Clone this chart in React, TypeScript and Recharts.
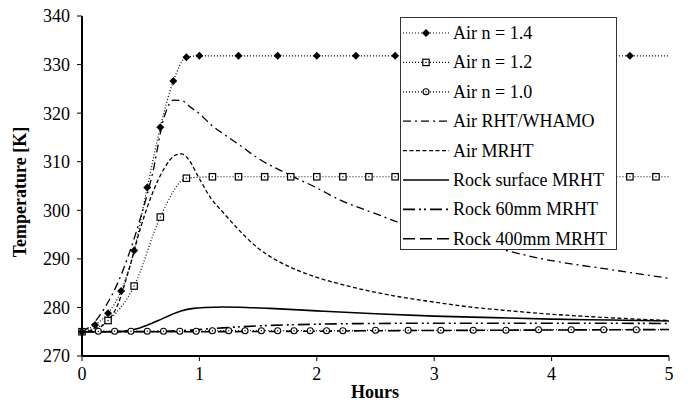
import React from 'react';
import { LineChart, Line, XAxis, YAxis, Legend } from 'recharts';

const FONT = "'Liberation Serif', 'Times New Roman', serif";

// ---- data ----
const xTicks = [0, 1, 2, 3, 4, 5];
const yTicks = [270, 280, 290, 300, 310, 320, 330, 340];

const seriesNames = [
  'Air n = 1.4',
  'Air n = 1.2',
  'Air n = 1.0',
  'Air RHT/WHAMO',
  'Air MRHT',
  'Rock surface MRHT',
  'Rock 60mm MRHT',
  'Rock 400mm MRHT',
];

const n14Hours = [0, 0.111, 0.222, 0.333, 0.444, 0.556, 0.667, 0.778, 0.889, 1.0, 1.333, 1.667, 2.0, 2.333, 2.667, 3.0, 3.333, 3.667, 4.0, 4.333, 4.667, 5.0];
const n14Temps = [275, 276.4, 278.8, 283.4, 291.7, 304.7, 317.1, 326.6, 331.5, 331.8, 331.8, 331.8, 331.8, 331.8, 331.8, 331.8, 331.8, 331.8, 331.8, 331.8, 331.8, 331.8];

const n12Hours = [0, 0.222, 0.444, 0.667, 0.889, 1.111, 1.333, 1.556, 1.778, 2.0, 2.222, 2.444, 2.667, 2.889, 3.111, 3.333, 3.556, 3.778, 4.0, 4.222, 4.444, 4.667, 4.889, 5.0];
const n12Temps = [275, 277.3, 284.4, 298.6, 306.6, 306.9, 306.9, 306.9, 306.9, 306.9, 306.9, 306.9, 306.9, 306.9, 306.9, 306.9, 306.9, 306.9, 306.9, 306.9, 306.9, 306.9, 306.9, 306.9];

const n10Hours = [0, 0.139, 0.278, 0.417, 0.556, 0.694, 0.833, 0.972, 1.111, 1.25, 1.389, 1.528, 1.667, 1.806, 1.944, 2.083, 2.222, 2.5, 2.778, 3.056, 3.333, 3.611, 3.889, 4.167, 4.444, 4.722, 5.0];
const n10Temps = [275.0, 275.1, 275.1, 275.1, 275.1, 275.1, 275.1, 275.1, 275.2, 275.2, 275.2, 275.2, 275.2, 275.2, 275.2, 275.2, 275.2, 275.3, 275.3, 275.3, 275.3, 275.3, 275.4, 275.4, 275.4, 275.4, 275.4];

const rhtHours = [0, 0.1, 0.2, 0.3, 0.4, 0.5, 0.6, 0.7, 0.78, 0.85, 0.92, 1.0, 1.1, 1.2, 1.35, 1.5, 1.75, 2.0, 2.2, 2.5, 2.7, 3.0, 3.5, 3.9, 4.5, 5.0];
const rhtTemps = [275, 276.8, 280.2, 284.8, 291.0, 298.6, 307.5, 319.2, 322.7, 322.6, 321.3, 319.9, 317.6, 315.8, 313.3, 310.7, 307.5, 304.6, 302.1, 299.3, 297.5, 295.4, 292.4, 290.1, 287.8, 286.0];

const mrhtHours = [0, 0.1, 0.2, 0.3, 0.4, 0.5, 0.6, 0.7, 0.8, 0.85, 0.9, 1.0, 1.1, 1.2, 1.35, 1.5, 1.65, 1.8, 2.0, 2.3, 2.7, 3.0, 3.3, 3.6, 4.0, 4.4, 5.0];
const mrhtTemps = [275, 275.4, 276.8, 280.3, 287.8, 296.5, 303.5, 308.6, 311.4, 311.6, 310.7, 306.5, 302.4, 299.6, 295.6, 292.2, 289.8, 288.0, 286.2, 284.2, 282.2, 281.1, 280.1, 279.4, 278.6, 278.0, 277.3];

const rockSurfHours = [0, 0.2, 0.35, 0.45, 0.55, 0.65, 0.75, 0.85, 0.95, 1.05, 1.2, 1.4, 1.6, 2.0, 2.5, 3.0, 3.5, 4.0, 4.5, 5.0];
const rockSurfTemps = [275, 275, 275.1, 275.5, 276.3, 277.3, 278.4, 279.3, 279.8, 280.0, 280.1, 280.0, 279.8, 279.3, 278.7, 278.2, 277.9, 277.6, 277.4, 277.2];

const rock60Hours = [0, 0.6, 0.9, 1.2, 1.5, 2.0, 2.5, 3.0, 4.0, 5.0];
const rock60Temps = [275, 275.05, 275.3, 275.8, 276.2, 276.55, 276.7, 276.75, 276.75, 276.7];

const rock400Hours = [0, 1.0, 1.5, 2.0, 2.5, 3.0, 3.5, 4.0, 4.5, 5.0];
const rock400Temps = [275, 275, 275.05, 275.1, 275.2, 275.25, 275.3, 275.35, 275.4, 275.45];

// ---- helpers ----
const toData = (xs: number[], ys: number[]) =>
  xs.map((x, i) => ({ x, y: ys[i], m: i < xs.length - 1 }));

const n14Data = toData(n14Hours, n14Temps);
const n12Data = toData(n12Hours, n12Temps);
const n10Data = toData(n10Hours, n10Temps);
const rhtData = toData(rhtHours, rhtTemps);
const mrhtData = toData(mrhtHours, mrhtTemps);
const rockSurfData = toData(rockSurfHours, rockSurfTemps);
const rock60Data = toData(rock60Hours, rock60Temps);
const rock400Data = toData(rock400Hours, rock400Temps);

const Diamond = ({ cx, cy }: { cx: number; cy: number }) => (
  <polygon points={`${cx},${cy - 4} ${cx + 4},${cy} ${cx},${cy + 4} ${cx - 4},${cy}`} fill="#000" />
);
const Square = ({ cx, cy }: { cx: number; cy: number }) => (
  <g>
    <rect x={cx - 3.2} y={cy - 3.2} width={6.4} height={6.4} fill="#fff" stroke="#000" strokeWidth={1.2} />
    <rect x={cx - 0.6} y={cy - 0.6} width={1.2} height={1.2} fill="#000" />
  </g>
);
const Circle = ({ cx, cy }: { cx: number; cy: number }) => (
  <g>
    <circle cx={cx} cy={cy} r={3} fill="#fff" stroke="#000" strokeWidth={1.1} />
    <circle cx={cx} cy={cy} r={0.7} fill="#000" />
  </g>
);

const makeDot = (Shape: any) => (props: any) => {
  const { cx, cy, payload, index } = props;
  if (!payload || !payload.m || cx == null || cy == null) return <g key={`e${index}`} />;
  return <g key={`d${index}`}><Shape cx={cx} cy={cy} /></g>;
};

const styles = [
  { dash: '1 2', w: 1.2, marker: 'diamond' },
  { dash: '1 2', w: 1.2, marker: 'square' },
  { dash: '1 2', w: 1.2, marker: 'circle' },
  { dash: '8 4 2 4', w: 1.3, marker: '' },
  { dash: '4 2.5', w: 1.3, marker: '' },
  { dash: '', w: 1.6, marker: '' },
  { dash: '12 4 2 3 2 4', w: 1.6, marker: '' },
  { dash: '12 5', w: 1.6, marker: '' },
];

const textStyle = { fontFamily: FONT, fontSize: 18 };

const LegendBox = () => (
  <div
    style={{
      width: 217,
      height: 233,
      border: '1px solid #333',
      background: '#fff',
      boxSizing: 'border-box',
    }}
  >
    <svg width={215} height={231} style={{ display: 'block' }}>
      {seriesNames.map((name, i) => {
        const cy = 15 + i * 29.4;
        const st = styles[i];
        return (
          <g key={name}>
            <line x1={2} x2={48} y1={cy} y2={cy} stroke="#000" strokeWidth={st.w} strokeDasharray={st.dash || undefined} />
            {st.marker === 'diamond' && <Diamond cx={25} cy={cy} />}
            {st.marker === 'square' && <Square cx={25} cy={cy} />}
            {st.marker === 'circle' && <Circle cx={25} cy={cy} />}
            <text x={52} y={cy + 6} style={textStyle} fill="#000">
              {name}
            </text>
          </g>
        );
      })}
    </svg>
  </div>
);

export default function App() {
  return (
    <div style={{ position: 'absolute', left: 0, top: 0, width: 688, height: 402, background: '#fff', fontFamily: FONT }}>
      <LineChart width={688} height={402} margin={{ top: 16, right: 19, bottom: 16, left: 22 }} style={{ fontFamily: FONT }}>
        <XAxis
          type="number"
          dataKey="x"
          domain={[0, 5]}
          ticks={xTicks}
          allowDuplicatedCategory={false}
          height={30}
          tickSize={5}
          tickMargin={6}
          axisLine={{ stroke: '#000', strokeWidth: 2 }}
          tickLine={{ stroke: '#000', strokeWidth: 1 }}
          tick={{ style: textStyle, fontSize: 18, fill: '#000' }}
          label={{
            content: () => (
              <text x={375} y={398} textAnchor="middle" style={{ ...textStyle, fontWeight: 'bold' }} fill="#000">
                Hours
              </text>
            ),
          }}
        />
        <YAxis
          type="number"
          dataKey="y"
          domain={[270, 340]}
          ticks={yTicks}
          width={60}
          tickSize={5}
          tickMargin={7}
          axisLine={{ stroke: '#000', strokeWidth: 2 }}
          tickLine={{ stroke: '#000', strokeWidth: 1 }}
          tick={{ style: textStyle, fontSize: 18, fill: '#000' }}
          label={{
            content: () => (
              <text
                x={26}
                y={192}
                transform="rotate(-90, 26, 192)"
                textAnchor="middle"
                style={{ ...textStyle, fontWeight: 'bold' }}
                fill="#000"
              >
                Temperature [K]
              </text>
            ),
          }}
        />
        <Legend
          layout="vertical"
          align="center"
          verticalAlign="middle"
          content={() => <LegendBox />}
          wrapperStyle={{ left: 400, top: 17, width: 217, height: 233 }}
        />
        <Line data={rock400Data} dataKey="y" name={seriesNames[7]} type="monotone" stroke="#000" strokeWidth={1.6} strokeDasharray="12 5" dot={false} activeDot={false} isAnimationActive={false} />
        <Line data={rock60Data} dataKey="y" name={seriesNames[6]} type="monotone" stroke="#000" strokeWidth={1.6} strokeDasharray="12 4 2 3 2 4" dot={false} activeDot={false} isAnimationActive={false} />
        <Line data={rockSurfData} dataKey="y" name={seriesNames[5]} type="monotone" stroke="#000" strokeWidth={1.6} dot={false} activeDot={false} isAnimationActive={false} />
        <Line data={mrhtData} dataKey="y" name={seriesNames[4]} type="monotone" stroke="#000" strokeWidth={1.3} strokeDasharray="4 2.5" dot={false} activeDot={false} isAnimationActive={false} />
        <Line data={rhtData} dataKey="y" name={seriesNames[3]} type="monotone" stroke="#000" strokeWidth={1.3} strokeDasharray="8 4 2 4" dot={false} activeDot={false} isAnimationActive={false} />
        <Line data={n10Data} dataKey="y" name={seriesNames[2]} type="monotone" stroke="#000" strokeWidth={1.2} strokeDasharray="1 2" dot={makeDot(Circle)} activeDot={false} isAnimationActive={false} />
        <Line data={n12Data} dataKey="y" name={seriesNames[1]} type="monotone" stroke="#000" strokeWidth={1.2} strokeDasharray="1 2" dot={makeDot(Square)} activeDot={false} isAnimationActive={false} />
        <Line data={n14Data} dataKey="y" name={seriesNames[0]} type="monotone" stroke="#000" strokeWidth={1.2} strokeDasharray="1 2" dot={makeDot(Diamond)} activeDot={false} isAnimationActive={false} />
      </LineChart>
    </div>
  );
}
